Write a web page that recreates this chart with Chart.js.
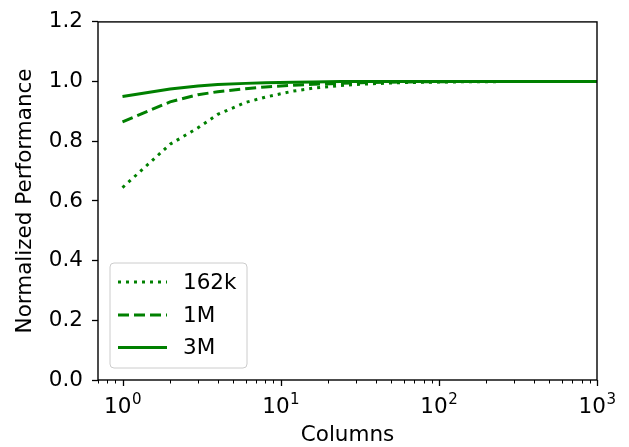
<!DOCTYPE html>
<html>
<head>
<meta charset="utf-8">
<script src="https://cdn.jsdelivr.net/npm/chart.js@4/dist/chart.umd.min.js"></script>
<style>
  html, body { margin: 0; padding: 0; background: #fff; }
  canvas { display: block; }
</style>
</head>
<body>
<canvas id="c" width="629" height="447"></canvas>
<script>
// ---- data ----
const columns = [1, 2, 3, 4, 6, 8, 12, 16, 24, 32, 48, 64, 128, 256, 512, 1024];
const perf162k = [0.645, 0.790, 0.845, 0.890, 0.930, 0.948, 0.968, 0.978, 0.987, 0.991, 0.995, 0.997, 0.999, 1.0, 1.0, 1.0];
const perf1M   = [0.865, 0.932, 0.956, 0.966, 0.976, 0.982, 0.988, 0.991, 0.994, 0.996, 0.998, 0.999, 1.0, 1.0, 1.0, 1.0];
const perf3M   = [0.950, 0.975, 0.985, 0.990, 0.994, 0.996, 0.998, 0.999, 1.0, 1.0, 1.0, 1.0, 1.0, 1.0, 1.0, 1.0];
const seriesLabels = ['162k', '1M', '3M'];
const yTicks = [0, 0.2, 0.4, 0.6, 0.8, 1.0, 1.2];
const xTickExponents = [0, 1, 2, 3];

const GREEN = '#008000';
const FONT = 'DejaVu Sans';
const FS = 21.5;
const LW = 3;
const dashes = [[3, 5], [11, 5], []];

function pts(ys) { return columns.map((x, i) => ({x: x, y: ys[i]})); }

const datasets = [perf162k, perf1M, perf3M].map((ys, i) => ({
  label: seriesLabels[i],
  data: pts(ys),
  borderColor: GREEN,
  backgroundColor: GREEN,
  borderWidth: LW,
  borderDash: dashes[i],
  pointRadius: 0,
  tension: 0,
  fill: false
}));

const framePlugin = {
  id: 'frame',
  afterDatasetsDraw(chart) {
    const ctx = chart.ctx;
    const a = chart.chartArea;
    const xs = chart.scales.x;
    ctx.save();
    // x ticks (major + minor)
    ctx.strokeStyle = '#000';
    for (let k = -1; k <= 3; k++) {
      for (let m = 1; m <= 9; m++) {
        const v = m * Math.pow(10, k);
        if (v < xs.min - 1e-9 || v > xs.max + 1e-9) continue;
        const px = Math.round(xs.getPixelForValue(v)) + 0.5;
        const len = m === 1 ? 6 : 3.5;
        ctx.lineWidth = m === 1 ? 1.3 : 1.0;
        ctx.beginPath();
        ctx.moveTo(px, a.bottom);
        ctx.lineTo(px, a.bottom + len);
        ctx.stroke();
      }
    }
    // x tick labels as 10^k with a raised exponent
    ctx.fillStyle = '#000';
    ctx.textBaseline = 'alphabetic';
    ctx.textAlign = 'left';
    const expFS = FS * 0.7;
    xTickExponents.forEach(e => {
      const px = xs.getPixelForValue(Math.pow(10, e));
      ctx.font = FS + 'px "' + FONT + '"';
      const wb = ctx.measureText('10').width;
      ctx.font = expFS + 'px "' + FONT + '"';
      const we = ctx.measureText(String(e)).width;
      const x0 = px - (wb + we) / 2;
      ctx.font = FS + 'px "' + FONT + '"';
      ctx.fillText('10', x0, a.bottom + 32.5);
      ctx.font = expFS + 'px "' + FONT + '"';
      ctx.fillText(String(e), x0 + wb + 0.5, a.bottom + 24);
    });

    // frame
    ctx.lineWidth = 1.4;
    ctx.strokeStyle = '#000';
    ctx.strokeRect(a.left, a.top, a.right - a.left, a.bottom - a.top);

    // legend
    const lx = 110, ly = 263, lw = 137, lh = 105, r = 4;
    ctx.beginPath();
    ctx.moveTo(lx + r, ly);
    ctx.lineTo(lx + lw - r, ly);
    ctx.quadraticCurveTo(lx + lw, ly, lx + lw, ly + r);
    ctx.lineTo(lx + lw, ly + lh - r);
    ctx.quadraticCurveTo(lx + lw, ly + lh, lx + lw - r, ly + lh);
    ctx.lineTo(lx + r, ly + lh);
    ctx.quadraticCurveTo(lx, ly + lh, lx, ly + lh - r);
    ctx.lineTo(lx, ly + r);
    ctx.quadraticCurveTo(lx, ly, lx + r, ly);
    ctx.closePath();
    ctx.fillStyle = 'rgba(255,255,255,0.8)';
    ctx.fill();
    ctx.lineWidth = 1;
    ctx.strokeStyle = '#cccccc';
    ctx.stroke();

    const rowsY = [282, 315, 347.5];
    chart.data.datasets.forEach((ds, i) => {
      const y = rowsY[i];
      ctx.strokeStyle = ds.borderColor;
      ctx.lineWidth = ds.borderWidth;
      ctx.setLineDash(ds.borderDash || []);
      ctx.lineCap = 'butt';
      ctx.beginPath();
      ctx.moveTo(118, y);
      ctx.lineTo(167, y);
      ctx.stroke();
      ctx.setLineDash([]);
      ctx.fillStyle = '#000';
      ctx.font = FS + 'px "' + FONT + '"';
      ctx.textBaseline = 'middle';
      ctx.textAlign = 'left';
      ctx.fillText(ds.label, 183, y + 1);
    });
    ctx.restore();
  }
};

new Chart(document.getElementById('c'), {
  type: 'line',
  data: { datasets: datasets },
  options: {
    responsive: false,
    animation: false,
    devicePixelRatio: 1,
    layout: { padding: { left: 0, right: 32, top: 20, bottom: 0 } },
    plugins: { legend: { display: false }, tooltip: { enabled: false } },
    scales: {
      x: {
        type: 'logarithmic',
        min: 0.707,
        max: 1000,
        border: { display: false },
        grid: { display: false, drawTicks: false },
        afterBuildTicks(scale) {
          scale.ticks = xTickExponents.map(e => ({ value: Math.pow(10, e) }));
        },
        afterFit(scale) { scale.height = 67; },
        ticks: { display: false },
        title: {
          display: true,
          text: 'Columns',
          color: '#000',
          font: { family: FONT, size: FS, lineHeight: 1.1 },
          padding: { top: 0, bottom: 0 }
        }
      },
      y: {
        type: 'linear',
        min: 0,
        max: 1.2,
        border: { display: false },
        grid: { display: true, drawOnChartArea: false, drawTicks: true, tickLength: 6, tickColor: '#000', tickWidth: 1.3 },
        afterBuildTicks(scale) {
          scale.ticks = yTicks.map(v => ({ value: v }));
        },
        afterFit(scale) { scale.width = 98; },
        ticks: {
          padding: 9,
          color: '#000',
          font: { family: FONT, size: FS },
          callback: (v) => Number(v).toFixed(1)
        },
        title: {
          display: true,
          text: 'Normalized Performance',
          color: '#000',
          font: { family: FONT, size: FS, lineHeight: 1.2 },
          padding: { top: 13, bottom: 0 }
        }
      }
    }
  },
  plugins: [framePlugin]
});
</script>
</body>
</html>
